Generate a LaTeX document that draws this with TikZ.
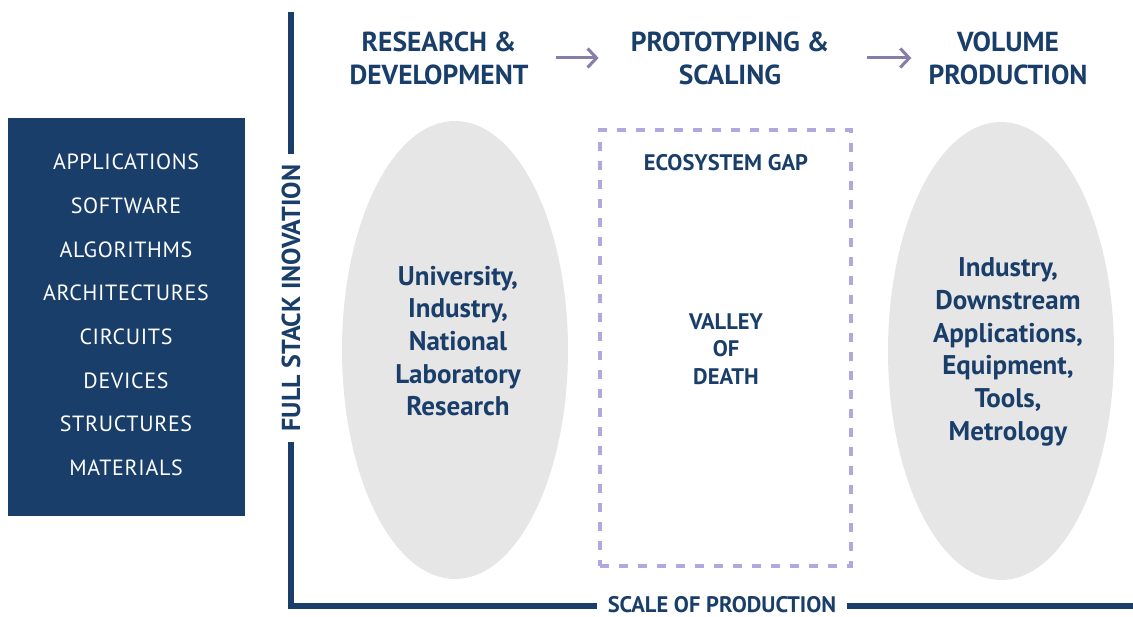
\documentclass[tikz,border=0pt]{standalone}
\usepackage{fontspec}
\setmainfont{PT Sans}
\usetikzlibrary{shapes.geometric,arrows.meta}
\definecolor{navy}{RGB}{26,62,106}
\definecolor{fog}{RGB}{230,230,230}
\definecolor{lilac}{RGB}{178,168,224}
\definecolor{mauve}{RGB}{136,124,168}
\begin{document}
\begin{tikzpicture}[
    x=1pt, y=-1pt,
    head/.style={font=\fontsize{27.5}{33}\selectfont\bfseries, text=navy, align=center, inner sep=0pt},
    blob/.style={ellipse, fill=fog, minimum width=226pt, minimum height=458pt, inner sep=0pt},
    blobtext/.style={font=\fontsize{27}{32.7}\selectfont\bfseries, text=navy, align=center},
    layer/.style={font=\fontsize{22}{24}\selectfont\addfontfeature{LetterSpace=3}, text=white},
    axis/.style={navy, line width=6pt},
    flow/.style={mauve, line width=3pt, -{Straight Barb[length=9pt, width=19pt, line width=3pt]}},
    >=stealth
]
\useasboundingbox (0,0) rectangle (1133,617);

% stack of layers
\node[fill=navy, minimum width=237pt, minimum height=398pt, inner sep=0pt] (stack) at (126.5,317) {};
\foreach \name [count=\i] in {APPLICATIONS, SOFTWARE, ALGORITHMS, ARCHITECTURES, CIRCUITS, DEVICES, STRUCTURES, MATERIALS}
    \node[layer] (layer\i) at (126, 162+43.7*\i-43.7) {\name};

% axes
\coordinate (axtop) at (291,12);
\coordinate (corner) at (291,606);
\coordinate (axend) at (1133,606);
\node[font=\fontsize{26}{30}\selectfont\bfseries, text=navy, rotate=90, inner xsep=10pt] (vlabel) at (291,298) {FULL STACK INOVATION};
\node[font=\fontsize{22.5}{28}\selectfont\bfseries, text=navy, inner xsep=11pt, inner ysep=0pt, anchor=base] (hlabel) at (722,612) {SCALE OF PRODUCTION};
\draw[axis] (axtop) -- (vlabel.east);
\draw[axis] (vlabel.west) -- (corner) -- (hlabel.west |- corner);
\draw[axis] (hlabel.east |- corner) -- (axend);

% stages
\node[head] (rd) at (439,58) {RESEARCH \&\\DEVELOPMENT};
\node[head] (ps) at (730,58) {PROTOTYPING \&\\SCALING};
\node[head] (vp) at (1008,58) {VOLUME\\PRODUCTION};
\draw[flow, shorten <=27pt, shorten >=32pt] (rd.east) -- (ps.west);
\draw[flow, shorten <=38pt, shorten >=17pt] (ps.east) -- (vp.west);

% research
\node[blob] (lab) at (455,350) {};
\node[blobtext] (labtext) at (458,341) {University,\\Industry,\\National\\Laboratory\\Research};

% gap
\node[draw=lilac, line width=4pt, dash pattern=on 9pt off 10pt, minimum width=251pt, minimum height=436pt, inner sep=0pt] (gap) at (725.5,348) {};
\node[font=\fontsize{22.5}{27}\selectfont\bfseries, text=navy] (gaptitle) at (726,163) {ECOSYSTEM GAP};
\node[font=\fontsize{22.5}{27.5}\selectfont\bfseries, text=navy, align=center] (valley) at (726,349) {VALLEY\\OF\\DEATH};

% production
\node[blob] (fab) at (1001,351) {};
\node[blobtext] (fabtext) at (1008,352) {Industry,\\Downstream\\Applications,\\Equipment,\\Tools,\\Metrology};
\end{tikzpicture}
\end{document}
